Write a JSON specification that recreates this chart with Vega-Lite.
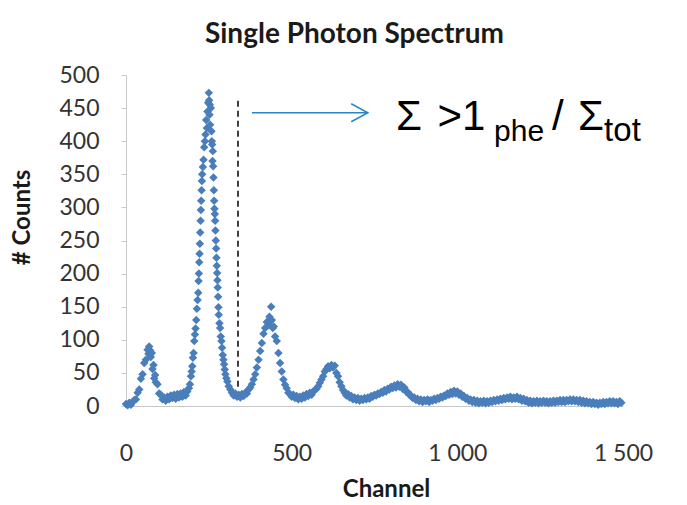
{
  "$schema": "https://vega.github.io/schema/vega-lite/v6.json",
  "width": 497,
  "height": 331,
  "autosize": "none",
  "padding": {"left": 126, "top": 75, "right": 64, "bottom": 99},
  "background": "white",
  "title": {"text": "Single Photon Spectrum", "font": "Lato", "fontSize": 28, "fontWeight": "bold", "color": "#1a1a1a", "dx": -20, "offset": 15},
  "config": {
    "view": {"stroke": null},
    "axis": {"grid": false, "labelFont": "Lato", "labelFontSize": 23, "labelColor": "#333333", "labelFlush": false, "labelOverlap": false, "titleFont": "Lato", "titleFontSize": 24, "titleFontWeight": "bold", "titleColor": "#1a1a1a", "domainColor": "#c8c8c8", "tickColor": "#c8c8c8"},
    "axisX": {"ticks": false, "labelPadding": 36, "titlePadding": 12, "titleX": 260},
    "axisY": {"tickSize": 5, "labelPadding": 22, "titlePadding": 24, "titleY": 142}
  },
  "resolve": {"axis": {"x": "independent", "y": "independent"}},
  "layer": [
    {
      "data": {"values": [
        {"c":0,"n":3},{"c":5,"n":1},{"c":10,"n":5},{"c":15,"n":2},{"c":20,"n":6},{"c":25,"n":9},{"c":30,"n":10},{"c":35,"n":20},{"c":40,"n":25},{"c":45,"n":41},{"c":50,"n":48},{"c":55,"n":65},{"c":60,"n":70},{"c":65,"n":85},{"c":68,"n":79},{"c":70,"n":90},{"c":73,"n":84},{"c":75,"n":74},{"c":78,"n":80},{"c":80,"n":56},{"c":83,"n":62},{"c":85,"n":42},{"c":88,"n":47},{"c":90,"n":36},{"c":95,"n":33},{"c":100,"n":19},{"c":105,"n":17},{"c":110,"n":10},{"c":115,"n":13},{"c":120,"n":8},{"c":125,"n":14},{"c":130,"n":10},{"c":135,"n":16},{"c":140,"n":12},{"c":145,"n":17},{"c":150,"n":11},{"c":155,"n":18},{"c":160,"n":13},{"c":165,"n":19},{"c":170,"n":14},{"c":175,"n":21},{"c":180,"n":16},{"c":185,"n":22},{"c":190,"n":27},{"c":193,"n":33},{"c":196,"n":45},{"c":198,"n":52},{"c":200,"n":60},{"c":202,"n":73},{"c":204,"n":80},{"c":206,"n":98},{"c":208,"n":108},{"c":210,"n":117},{"c":212,"n":130},{"c":214,"n":147},{"c":216,"n":160},{"c":218,"n":171},{"c":219,"n":189},{"c":220,"n":200},{"c":221,"n":217},{"c":222,"n":230},{"c":223,"n":245},{"c":224,"n":262},{"c":225,"n":280},{"c":226,"n":296},{"c":227,"n":310},{"c":228,"n":326},{"c":229,"n":340},{"c":230,"n":350},{"c":232,"n":361},{"c":234,"n":372},{"c":236,"n":391},{"c":238,"n":400},{"c":240,"n":410},{"c":242,"n":432},{"c":244,"n":420},{"c":246,"n":445},{"c":248,"n":458},{"c":250,"n":473},{"c":251,"n":462},{"c":252,"n":440},{"c":253,"n":455},{"c":254,"n":425},{"c":256,"n":450},{"c":258,"n":415},{"c":259,"n":400},{"c":260,"n":395},{"c":261,"n":370},{"c":262,"n":385},{"c":263,"n":362},{"c":264,"n":345},{"c":265,"n":326},{"c":266,"n":310},{"c":267,"n":298},{"c":268,"n":290},{"c":269,"n":280},{"c":270,"n":265},{"c":271,"n":250},{"c":272,"n":238},{"c":273,"n":224},{"c":274,"n":212},{"c":275,"n":201},{"c":276,"n":190},{"c":277,"n":179},{"c":278,"n":165},{"c":279,"n":149},{"c":280,"n":138},{"c":282,"n":125},{"c":284,"n":118},{"c":286,"n":105},{"c":288,"n":98},{"c":290,"n":88},{"c":292,"n":77},{"c":294,"n":70},{"c":296,"n":63},{"c":298,"n":55},{"c":300,"n":48},{"c":303,"n":42},{"c":306,"n":37},{"c":310,"n":30},{"c":315,"n":25},{"c":320,"n":20},{"c":325,"n":16},{"c":330,"n":19},{"c":335,"n":14},{"c":340,"n":17},{"c":345,"n":13},{"c":350,"n":18},{"c":355,"n":15},{"c":360,"n":20},{"c":365,"n":19},{"c":370,"n":25},{"c":375,"n":28},{"c":380,"n":33},{"c":385,"n":40},{"c":390,"n":48},{"c":395,"n":58},{"c":400,"n":70},{"c":405,"n":83},{"c":410,"n":95},{"c":415,"n":109},{"c":420,"n":118},{"c":425,"n":127},{"c":430,"n":122},{"c":433,"n":135},{"c":436,"n":128},{"c":438,"n":150},{"c":440,"n":130},{"c":443,"n":118},{"c":446,"n":120},{"c":450,"n":105},{"c":455,"n":98},{"c":460,"n":80},{"c":465,"n":65},{"c":470,"n":52},{"c":475,"n":40},{"c":480,"n":32},{"c":485,"n":27},{"c":490,"n":20},{"c":495,"n":18},{"c":500,"n":14},{"c":505,"n":17},{"c":510,"n":12},{"c":515,"n":15},{"c":520,"n":10},{"c":525,"n":14},{"c":530,"n":11},{"c":535,"n":16},{"c":540,"n":13},{"c":545,"n":18},{"c":550,"n":15},{"c":555,"n":20},{"c":560,"n":17},{"c":565,"n":22},{"c":570,"n":24},{"c":575,"n":26},{"c":580,"n":30},{"c":585,"n":35},{"c":590,"n":40},{"c":595,"n":45},{"c":600,"n":52},{"c":605,"n":56},{"c":610,"n":60},{"c":615,"n":57},{"c":620,"n":62},{"c":625,"n":58},{"c":630,"n":61},{"c":635,"n":50},{"c":640,"n":45},{"c":645,"n":36},{"c":650,"n":30},{"c":655,"n":24},{"c":660,"n":20},{"c":665,"n":16},{"c":670,"n":18},{"c":675,"n":13},{"c":680,"n":15},{"c":685,"n":10},{"c":690,"n":13},{"c":695,"n":9},{"c":700,"n":12},{"c":705,"n":8},{"c":710,"n":11},{"c":715,"n":9},{"c":720,"n":12},{"c":725,"n":10},{"c":730,"n":13},{"c":735,"n":11},{"c":740,"n":15},{"c":745,"n":14},{"c":750,"n":17},{"c":755,"n":16},{"c":760,"n":19},{"c":765,"n":18},{"c":770,"n":21},{"c":775,"n":20},{"c":780,"n":24},{"c":785,"n":22},{"c":790,"n":26},{"c":795,"n":25},{"c":800,"n":29},{"c":805,"n":27},{"c":810,"n":31},{"c":815,"n":28},{"c":820,"n":33},{"c":825,"n":29},{"c":830,"n":32},{"c":835,"n":26},{"c":840,"n":28},{"c":845,"n":22},{"c":850,"n":21},{"c":855,"n":17},{"c":860,"n":16},{"c":865,"n":12},{"c":870,"n":13},{"c":875,"n":9},{"c":880,"n":11},{"c":885,"n":7},{"c":890,"n":10},{"c":895,"n":6},{"c":900,"n":9},{"c":905,"n":7},{"c":910,"n":10},{"c":915,"n":6},{"c":920,"n":9},{"c":925,"n":8},{"c":930,"n":11},{"c":935,"n":9},{"c":940,"n":12},{"c":945,"n":11},{"c":950,"n":14},{"c":955,"n":13},{"c":960,"n":16},{"c":965,"n":15},{"c":970,"n":19},{"c":975,"n":17},{"c":980,"n":21},{"c":985,"n":18},{"c":990,"n":23},{"c":995,"n":19},{"c":1000,"n":22},{"c":1005,"n":17},{"c":1010,"n":19},{"c":1015,"n":14},{"c":1020,"n":15},{"c":1025,"n":11},{"c":1030,"n":12},{"c":1035,"n":8},{"c":1040,"n":10},{"c":1045,"n":6},{"c":1050,"n":9},{"c":1055,"n":5},{"c":1060,"n":8},{"c":1065,"n":4},{"c":1070,"n":7},{"c":1075,"n":5},{"c":1080,"n":8},{"c":1085,"n":4},{"c":1090,"n":7},{"c":1095,"n":5},{"c":1100,"n":8},{"c":1105,"n":6},{"c":1110,"n":9},{"c":1115,"n":7},{"c":1120,"n":10},{"c":1125,"n":8},{"c":1130,"n":11},{"c":1135,"n":9},{"c":1140,"n":12},{"c":1145,"n":10},{"c":1150,"n":13},{"c":1155,"n":11},{"c":1160,"n":14},{"c":1165,"n":10},{"c":1170,"n":13},{"c":1175,"n":11},{"c":1180,"n":14},{"c":1185,"n":10},{"c":1190,"n":12},{"c":1195,"n":8},{"c":1200,"n":11},{"c":1205,"n":7},{"c":1210,"n":9},{"c":1215,"n":5},{"c":1220,"n":8},{"c":1225,"n":4},{"c":1230,"n":7},{"c":1235,"n":5},{"c":1240,"n":8},{"c":1245,"n":4},{"c":1250,"n":7},{"c":1255,"n":5},{"c":1260,"n":8},{"c":1265,"n":5},{"c":1270,"n":7},{"c":1275,"n":4},{"c":1280,"n":7},{"c":1285,"n":5},{"c":1290,"n":8},{"c":1295,"n":5},{"c":1300,"n":8},{"c":1305,"n":6},{"c":1310,"n":9},{"c":1315,"n":6},{"c":1320,"n":9},{"c":1325,"n":6},{"c":1330,"n":9},{"c":1335,"n":7},{"c":1340,"n":10},{"c":1345,"n":7},{"c":1350,"n":10},{"c":1355,"n":7},{"c":1360,"n":9},{"c":1365,"n":6},{"c":1370,"n":9},{"c":1375,"n":5},{"c":1380,"n":8},{"c":1385,"n":4},{"c":1390,"n":7},{"c":1395,"n":4},{"c":1400,"n":6},{"c":1405,"n":3},{"c":1410,"n":6},{"c":1415,"n":3},{"c":1420,"n":5},{"c":1425,"n":2},{"c":1430,"n":5},{"c":1435,"n":3},{"c":1440,"n":6},{"c":1445,"n":3},{"c":1450,"n":6},{"c":1455,"n":4},{"c":1460,"n":7},{"c":1465,"n":4},{"c":1470,"n":7},{"c":1475,"n":4},{"c":1480,"n":6},{"c":1485,"n":3},{"c":1490,"n":7},{"c":1495,"n":5}
      ]},
      "mark": {"type": "point", "shape": "diamond", "filled": true, "size": 72, "color": "#4a7ebb", "opacity": 1},
      "encoding": {
        "x": {"field": "c", "type": "quantitative", "scale": {"domain": [0, 1500], "nice": false, "zero": true},
          "axis": {"title": "Channel", "values": [0, 500, 1000, 1500], "labelExpr": "replace(format(datum.value, ','), ',', ' ')"}},
        "y": {"field": "n", "type": "quantitative", "scale": {"domain": [0, 500], "nice": false},
          "axis": {"title": "# Counts", "values": [0, 50, 100, 150, 200, 250, 300, 350, 400, 450, 500]}}
      }
    },
    {
      "data": {"values": [{}]},
      "mark": {"type": "rule", "strokeDash": [6, 4], "color": "black", "strokeWidth": 1.5},
      "encoding": {"x": {"datum": 338, "axis": null}, "y": {"datum": 461, "axis": null}, "y2": {"datum": 24}}
    },
    {
      "data": {"values": [{}]},
      "mark": {"type": "rule", "color": "#2a86bf", "strokeWidth": 1.5},
      "encoding": {"x": {"datum": 380, "axis": null}, "x2": {"datum": 728}, "y": {"datum": 443, "axis": null}}
    },
    {
      "data": {"values": [{}]},
      "mark": {"type": "point", "shape": "M -1.85 -1 L 0 0 L -1.85 1", "filled": false, "stroke": "#2a86bf", "strokeWidth": 1.5, "size": 324, "opacity": 1},
      "encoding": {"x": {"datum": 730, "axis": null}, "y": {"datum": 443, "axis": null}}
    },
    {
      "data": {"values": [{}]},
      "mark": {"type": "text", "text": "Σ", "font": "Liberation Sans", "fontSize": 42, "align": "left", "baseline": "alphabetic", "color": "black"},
      "encoding": {"x": {"datum": 815, "axis": null}, "y": {"datum": 417, "axis": null}}
    },
    {
      "data": {"values": [{}]},
      "mark": {"type": "text", "text": ">1", "font": "Liberation Sans", "fontSize": 42, "align": "left", "baseline": "alphabetic", "color": "black"},
      "encoding": {"x": {"datum": 940, "axis": null}, "y": {"datum": 417, "axis": null}}
    },
    {
      "data": {"values": [{}]},
      "mark": {"type": "text", "text": "phe", "font": "Liberation Sans", "fontSize": 30, "align": "left", "baseline": "alphabetic", "color": "black"},
      "encoding": {"x": {"datum": 1111, "axis": null}, "y": {"datum": 400, "axis": null}}
    },
    {
      "data": {"values": [{}]},
      "mark": {"type": "text", "text": "/", "font": "Liberation Sans", "fontSize": 42, "align": "left", "baseline": "alphabetic", "color": "black"},
      "encoding": {"x": {"datum": 1286, "axis": null}, "y": {"datum": 417, "axis": null}}
    },
    {
      "data": {"values": [{}]},
      "mark": {"type": "text", "text": "Σ", "font": "Liberation Sans", "fontSize": 42, "align": "left", "baseline": "alphabetic", "color": "black"},
      "encoding": {"x": {"datum": 1364, "axis": null}, "y": {"datum": 417, "axis": null}}
    },
    {
      "data": {"values": [{}]},
      "mark": {"type": "text", "text": "tot", "font": "Liberation Sans", "fontSize": 33, "align": "left", "baseline": "alphabetic", "color": "black"},
      "encoding": {"x": {"datum": 1443, "axis": null}, "y": {"datum": 400, "axis": null}}
    }
  ]
}
